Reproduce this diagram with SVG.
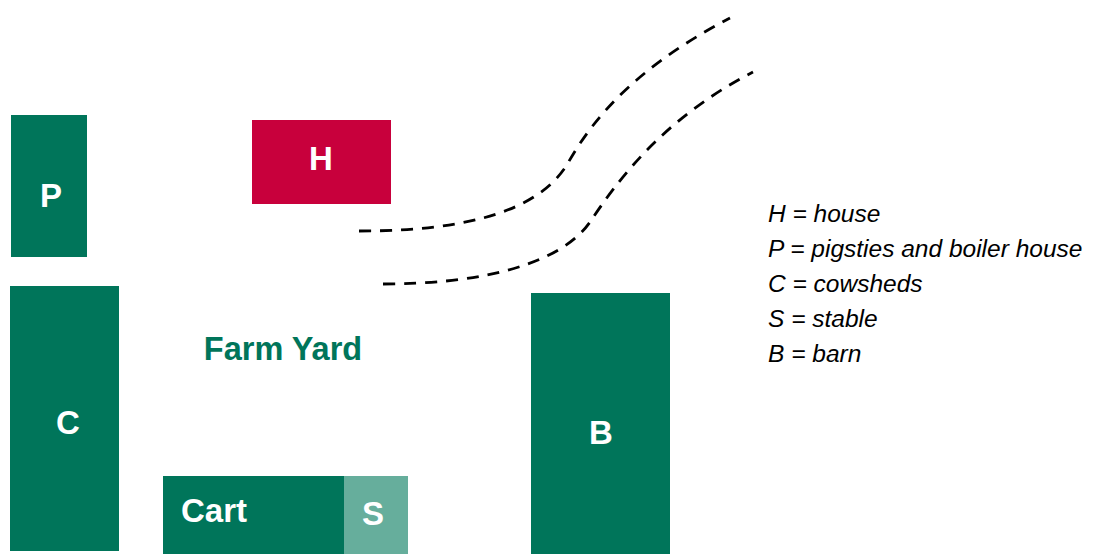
<svg xmlns="http://www.w3.org/2000/svg" width="1097" height="554" viewBox="0 0 1097 554">
<style>
.g{fill:#00755A}
.r{fill:#C8003C}
.s{fill:#66AE9C}
.lbl{font-family:"Liberation Sans",Arial,sans-serif;font-weight:bold;font-size:33px;fill:#ffffff}
.fy{font-family:"Liberation Sans",Arial,sans-serif;font-weight:bold;font-size:32.5px;fill:#00755A}
.leg{font-family:"Liberation Sans",Arial,sans-serif;font-style:italic;font-size:24.5px;fill:#000000}
.road{fill:none;stroke:#000000;stroke-width:2.8;stroke-dasharray:12 9}
</style>
<rect width="1097" height="554" fill="#ffffff"/>
<g id="connectors">
<path class="road" d="M359,231 C470,231 540,210 568,163 C595,115 640,65 730,18"/>
<path class="road" d="M383,284 C480,284 560,265 590,222 C615,185 660,120 753,72"/>
</g>
<g id="node-P"><rect class="g" x="11" y="115" width="76" height="142"/><text class="lbl" x="51" y="207" text-anchor="middle">P</text></g>
<g id="node-H"><rect class="r" x="252" y="120" width="139" height="84"/><text class="lbl" x="321" y="170" text-anchor="middle">H</text></g>
<g id="node-C"><rect class="g" x="10" y="286" width="109" height="265"/><text class="lbl" x="68" y="434" text-anchor="middle">C</text></g>
<g id="node-B"><rect class="g" x="531" y="293" width="139" height="261"/><text class="lbl" x="601" y="444" text-anchor="middle">B</text></g>
<g id="node-Cart"><rect class="g" x="163" y="476" width="181" height="78"/><text class="lbl" x="181" y="522">Cart</text></g>
<g id="node-S"><rect class="s" x="344" y="476" width="64" height="78"/><text class="lbl" x="373" y="525" text-anchor="middle">S</text></g>
<g id="farmyard"><text class="fy" x="283" y="360" text-anchor="middle">Farm Yard</text></g>
<g id="legend">
<text class="leg" x="768" y="222">H = house</text>
<text class="leg" x="768" y="257">P = pigsties and boiler house</text>
<text class="leg" x="768" y="292">C = cowsheds</text>
<text class="leg" x="768" y="327">S = stable</text>
<text class="leg" x="768" y="362">B = barn</text>
</g>
</svg>
